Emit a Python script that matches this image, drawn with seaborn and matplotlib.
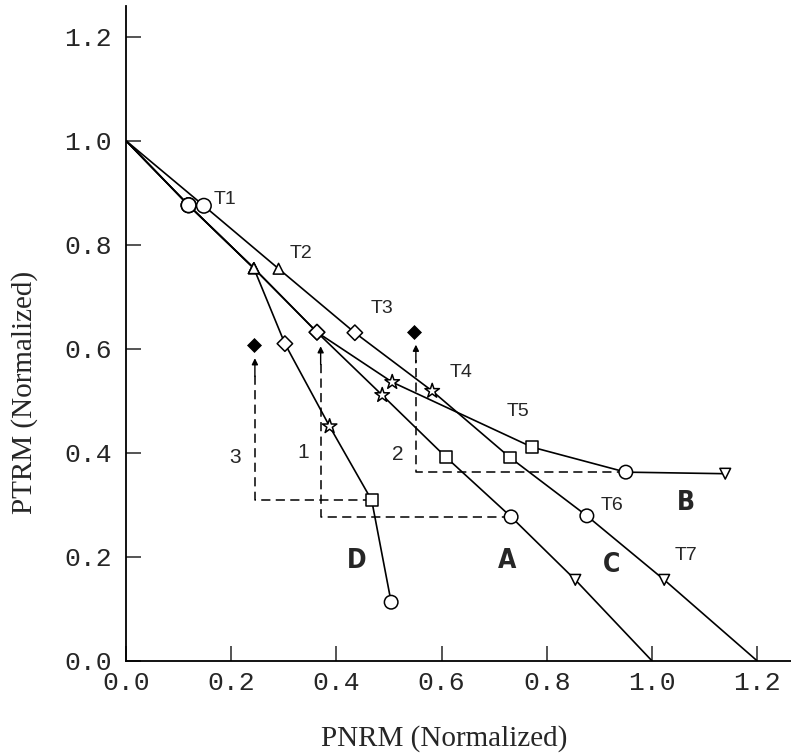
import matplotlib
matplotlib.use("Agg")
import matplotlib.pyplot as plt
import seaborn as sns
import pandas as pd

# values (PNRM on x, PTRM on y, both normalized)
a_x = [0.0, 0.119, 0.243, 0.363, 0.487, 0.608, 0.732, 0.854, 1.0]
a_y = [1.0, 0.876, 0.755, 0.632, 0.511, 0.392, 0.277, 0.156, 0.0]
a_step = ["", "T1", "T2", "T3", "T4", "T5", "T6", "T7", ""]

b_x = [0.0, 0.119, 0.243, 0.363, 0.506, 0.772, 0.950, 1.139]
b_y = [1.0, 0.876, 0.755, 0.632, 0.536, 0.411, 0.363, 0.360]
b_step = ["", "T1", "T2", "T3", "T4", "T5", "T6", "T7"]

c_x = [0.0, 0.148, 0.290, 0.435, 0.582, 0.730, 0.876, 1.023, 1.2]
c_y = [1.0, 0.875, 0.754, 0.631, 0.519, 0.391, 0.279, 0.156, 0.0]
c_step = ["", "T1", "T2", "T3", "T4", "T5", "T6", "T7", ""]

d_x = [0.0, 0.119, 0.243, 0.302, 0.387, 0.467, 0.504]
d_y = [1.0, 0.876, 0.755, 0.610, 0.451, 0.309, 0.113]
d_step = ["", "T1", "T2", "T3", "T4", "T5", "T6"]

# temperature step labels
step_names = ["T1", "T2", "T3", "T4", "T5", "T6", "T7"]
step_label_x = [0.188, 0.332, 0.487, 0.637, 0.746, 0.924, 1.065]
step_label_y = [0.888, 0.784, 0.677, 0.555, 0.479, 0.298, 0.202]

# curve names
curve_names = ["A", "B", "C", "D"]
curve_label_x = [0.724, 1.065, 0.923, 0.439]
curve_label_y = [0.193, 0.303, 0.184, 0.192]

# pTRM checks: dashed path from a point, over and up to the check value
check_names = ["1", "2", "3"]
check_x = [0.370, 0.551, 0.245]
check_from_x = [0.732, 0.950, 0.467]
check_from_y = [0.277, 0.363, 0.309]
check_tip_y = [0.605, 0.608, 0.582]
check_label_x = [0.337, 0.517, 0.208]
check_label_y = [0.400, 0.397, 0.392]
check_mark_x = [0.547, 0.243]
check_mark_y = [0.633, 0.608]

tick_vals = [0.0, 0.2, 0.4, 0.6, 0.8, 1.0, 1.2]
tick_text = ["0.0", "0.2", "0.4", "0.6", "0.8", "1.0", "1.2"]

step_markers = {"T1": "o", "T2": "^", "T3": "D", "T4": "*",
                "T5": "s", "T6": "o", "T7": "v"}
step_sizes = {"T1": 110, "T2": 60, "T3": 62, "T4": 120,
              "T5": 72, "T6": 95, "T7": 60}

frames = []
for name, xs, ys, st in [("A", a_x, a_y, a_step), ("B", b_x, b_y, b_step),
                         ("C", c_x, c_y, c_step), ("D", d_x, d_y, d_step)]:
    frames.append(pd.DataFrame({"series": name, "x": xs, "y": ys, "step": st}))
df = pd.concat(frames, ignore_index=True)
pts = df[df["step"] != ""]

sns.set_style("ticks")
fig = plt.figure(figsize=(7.91, 7.54), dpi=100)
ax = fig.add_axes([126 / 791, 93 / 754, 665 / 791, 655 / 754])

sns.lineplot(data=df, x="x", y="y", units="series", estimator=None, sort=False,
             color="black", lw=1.2, ax=ax, legend=False)
sns.scatterplot(data=pts, x="x", y="y", style="step", markers=step_markers,
                size="step", sizes=step_sizes, color="white", edgecolor="black",
                linewidth=1.1, zorder=3, legend=False, ax=ax)

# pTRM check arrows
for i in range(len(check_names)):
    ax.plot([check_from_x[i], check_x[i], check_x[i]],
            [check_from_y[i], check_from_y[i], check_tip_y[i] - 0.03],
            color="black", lw=1.1, ls=(0, (6, 3.5)), zorder=2)
    ax.annotate("", xy=(check_x[i], check_tip_y[i]),
                xytext=(check_x[i], check_tip_y[i] - 0.035),
                arrowprops=dict(arrowstyle="-|>", color="black", lw=1.0,
                                mutation_scale=9, shrinkA=0, shrinkB=0))
    ax.text(check_label_x[i], check_label_y[i], check_names[i], ha="center",
            va="center", fontsize=15, family="Liberation Sans")
sns.scatterplot(x=check_mark_x, y=check_mark_y, marker="D", s=50, color="black",
                edgecolor="black", zorder=3, legend=False, ax=ax)

for i in range(len(step_names)):
    ax.text(step_label_x[i], step_label_y[i], step_names[i], ha="center",
            va="center", fontsize=14, family="Liberation Sans")
for i in range(len(curve_names)):
    ax.text(curve_label_x[i], curve_label_y[i], curve_names[i], ha="center",
            va="center", fontsize=19, fontweight="bold",
            family="DejaVu Sans", fontstretch="condensed")

ax.set_xlim(0, 1.264)
ax.set_ylim(0, 1.259)
ax.set_xticks(tick_vals)
ax.set_xticklabels(tick_text)
ax.set_yticks(tick_vals)
ax.set_yticklabels(tick_text)
ax.tick_params(direction="in", length=11, width=1.1, labelsize=19)
ax.tick_params(axis="x", pad=7)
ax.tick_params(axis="y", pad=10)
for lbl in ax.get_xticklabels() + ax.get_yticklabels():
    lbl.set_family("Liberation Mono")
sns.despine(ax=ax)
for side in ["left", "bottom"]:
    ax.spines[side].set_linewidth(1.3)
    ax.spines[side].set_color("black")

ax.set_xlabel("PNRM (Normalized)", fontsize=21, family="Liberation Serif")
ax.set_ylabel("PTRM (Normalized)", fontsize=21, family="Liberation Serif")
ax.xaxis.set_label_coords(0.479, -0.098)
ax.yaxis.set_label_coords(-0.132, 0.41)

fig.savefig("out.png", dpi=100)
